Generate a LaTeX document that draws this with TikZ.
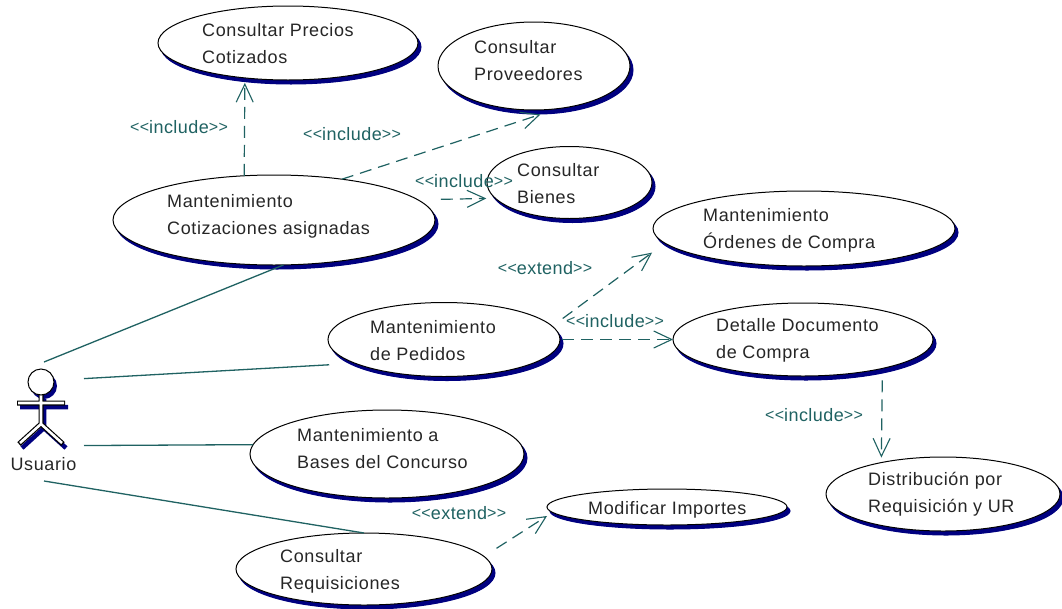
\documentclass[tikz,border=0pt]{standalone}
\usepackage{fontspec}
\setmainfont[LetterSpace=3.5]{Liberation Sans}
\newfontfamily\stfont[LetterSpace=2.5]{Liberation Sans}
\usetikzlibrary{shapes.geometric,shadows,arrows.meta}
\definecolor{shadowblue}{HTML}{000080}
\definecolor{linkteal}{HTML}{1F6262}
\newcommand{\stereotext}[1]{{\fontsize{16}{16}\selectfont\raisebox{0.5pt}{<{}<}}#1{\fontsize{16}{16}\selectfont\raisebox{0.5pt}{>{}>}}}
\tikzset{
  uc/.style={ellipse,draw=black,line width=1pt,fill=white,inner sep=0pt,outer sep=0pt,
    minimum width=2*#1,
    general shadow={shadow xshift=3pt,shadow yshift=-4pt,fill=shadowblue,draw=shadowblue}},
  uctext/.style={anchor=west,align=left,inner sep=0pt,text=black!85,font=\fontsize{18}{27}\selectfont},
  stereo/.style={inner sep=0pt,text=linkteal,font=\stfont\fontsize{18}{18}\selectfont},
  assoc/.style={draw=linkteal,line width=1.3pt},
  dep/.style={draw=linkteal,line width=1.2pt,dash pattern=on 12pt off 7pt,
    -{Straight Barb[length=18pt,width=17pt,line width=1.1pt]}},
  actorbox/.style={rectangle,inner sep=0pt,outer sep=0pt,minimum width=80pt,minimum height=119pt},
}
\begin{document}
\begin{tikzpicture}[x=1pt,y=-1pt]
\useasboundingbox[fill=white] (0,0) rectangle (1062,608);
% use cases
\node[uc=130pt,minimum height=74pt] (pre) at (288,43) {};
\node[uc=96pt,minimum height=88pt] (prov) at (534,66) {};
\node[uc=82.5pt,minimum height=72pt] (bien) at (569.5,182.5) {};
\node[uc=161pt,minimum height=90pt] (cot) at (274,220) {};
\node[uc=151pt,minimum height=75pt] (ord) at (804,228.5) {};
\node[uc=116pt,minimum height=74pt] (ped) at (444,339.5) {};
\node[uc=130pt,minimum height=73pt] (det) at (803,339.5) {};
\node[uc=137pt,minimum height=88pt] (bas) at (387,454) {};
\node[uc=120pt,minimum height=36pt] (mod) at (667,507) {};
\node[uc=117pt,minimum height=74pt] (dis) at (943,494) {};
\node[uc=128pt,minimum height=72pt] (req) at (364,569) {};
% use case texts
\node[uctext] (tpre) at (202,43.5) {Consultar Precios\\Cotizados};
\node[uctext] (tprov) at (474,60.5) {Consultar\\Proveedores};
\node[uctext] (tbien) at (517,183.5) {Consultar\\Bienes};
\node[uctext] (tcot) at (167,216) {Mantenimiento\\Cotizaciones asignadas};
\node[uctext] (tord) at (703,230.5) {Mantenimiento\\Órdenes de Compra};
\node[uctext] (tped) at (370,340.5) {Mantenimiento\\de Pedidos};
\node[uctext] (tdet) at (716,340.5) {Detalle Documento\\de Compra};
\node[uctext] (tbas) at (297,448.5) {Mantenimiento a\\Bases del Concurso};
\node[uctext] (tmod) at (588,510) {Modificar Importes};
\node[uctext] (tdis) at (868,494.5) {Distribución por\\Requisición y UR};
\node[uctext] (treq) at (280,571) {Consultar\\Requisiciones};
% actor
\node[actorbox] (act) at (44,421.5) {};
\begin{scope}[line cap=butt]
  \begin{scope}[shift={(3,4)},shadowblue,line width=4.5pt]
    \fill (41,382) circle (13);
    \draw (41,395) -- (41,424) (17,403) -- (65,403) (19,444) -- (41,424) -- (63,444);
  \end{scope}
  \draw[black,line width=5pt] (41,395) -- (41,424) (17,403) -- (65,403) (19,444) -- (41,424) -- (63,444);
  \draw[white,line width=2.6pt] (41,395) -- (41,424) (18,403) -- (64,403) (20,443) -- (41,424) -- (62,443);
  \draw[black,fill=white,line width=1pt] (41,382) circle (13);
\end{scope}
\node[uctext,anchor=center] (tact) at (43.5,464) {Usuario};
% associations
\draw[assoc] (act.north) -- (cot.-78.7);
\draw[assoc,shorten >=26pt] (act.47.4) -- (ped.195.3);
\draw[assoc] (act.-31.5) -- (bas.176.6);
\draw[assoc] (act.south) -- (req.north);
% dependencies
\draw[dep,shorten >=5pt] (cot.124.2) -- (pre.-141.7);
\draw[dep,shorten >=19pt] (cot.31) -- (prov.-60.5);
\draw[dep,shorten <=23pt,shorten >=9pt] (cot.8.4) -- (bien.192.7);
\draw[dep,shorten <=13pt,shorten >=16pt] (ped.7.4) -- (ord.186.9);
\draw[dep,shorten <=2pt] (ped.east) -- (det.west);
\draw[dep,shorten <=12pt,shorten >=5pt] (det.-20.5) -- (dis.153.1);
\coordinate (modtip) at (547,516);
\draw[dep,shorten <=15pt] (req.6) -- (modtip);
% stereotypes
\node[stereo] (s1) at (179,127) {\stereotext{include}};
\node[stereo] (s2) at (352,134) {\stereotext{include}};
\node[stereo] (s3) at (464,181) {\stereotext{include}};
\node[stereo] (s4) at (545,268) {\stereotext{extend}};
\node[stereo] (s5) at (615,321) {\stereotext{include}};
\node[stereo] (s6) at (814,415) {\stereotext{include}};
\node[stereo] (s7) at (459,513) {\stereotext{extend}};
\end{tikzpicture}
\end{document}
